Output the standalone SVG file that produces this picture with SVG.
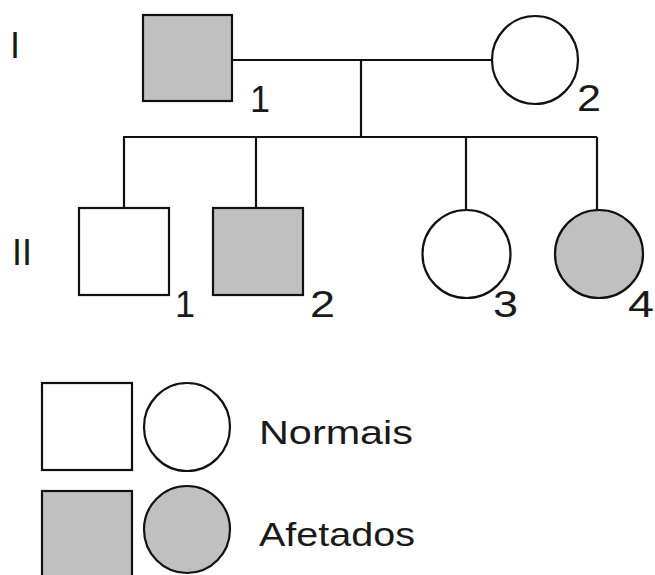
<svg xmlns="http://www.w3.org/2000/svg" width="655" height="575" viewBox="0 0 655 575">
<style>
.sym{stroke:#111;stroke-width:2.2;}
.n{fill:#fff;}
.a{fill:#c0c0c0;}
.ln{stroke:#111;stroke-width:2.2;fill:none;}
.t{font-family:"Liberation Sans",Arial,sans-serif;fill:#1a1a1a;font-size:36px;}
.w{font-family:"Liberation Sans",Arial,sans-serif;fill:#1a1a1a;font-size:34px;}
</style>
<rect width="655" height="575" fill="#fff"/>
<g id="gen-labels">
<text class="t" x="10" y="58">I</text>
<text class="t" x="12" y="265">II</text>
</g>
<g id="connectors">
<line class="ln" x1="232" y1="60" x2="491" y2="60"/>
<line class="ln" x1="361" y1="60" x2="361" y2="137"/>
<line class="ln" x1="123" y1="137" x2="597" y2="137"/>
<line class="ln" x1="124" y1="137" x2="124" y2="208"/>
<line class="ln" x1="256" y1="137" x2="256" y2="208"/>
<line class="ln" x1="466" y1="137" x2="466" y2="210"/>
<line class="ln" x1="597" y1="137" x2="597" y2="210"/>
</g>
<g id="I-1">
<rect class="sym a" x="143" y="15" width="89" height="86"/>
<text class="t" x="250" y="112">1</text>
</g>
<g id="I-2">
<ellipse class="sym n" cx="535" cy="60" rx="43" ry="44"/>
<text class="t" x="577" y="111" textLength="24" lengthAdjust="spacingAndGlyphs">2</text>
</g>
<g id="II-1">
<rect class="sym n" x="79" y="208" width="90" height="87"/>
<text class="t" x="175" y="317">1</text>
</g>
<g id="II-2">
<rect class="sym a" x="213" y="208" width="90" height="87"/>
<text class="t" x="310" y="317" textLength="25" lengthAdjust="spacingAndGlyphs">2</text>
</g>
<g id="II-3">
<ellipse class="sym n" cx="466.5" cy="254" rx="44" ry="44"/>
<text class="t" x="493" y="317" textLength="25" lengthAdjust="spacingAndGlyphs">3</text>
</g>
<g id="II-4">
<ellipse class="sym a" cx="599" cy="254" rx="44" ry="44"/>
<text class="t" x="628" y="317" textLength="26" lengthAdjust="spacingAndGlyphs">4</text>
</g>
<g id="legend">
<rect class="sym n" x="42" y="383" width="90" height="87"/>
<ellipse class="sym n" cx="187" cy="427" rx="43" ry="44"/>
<text class="w" x="259" y="444" textLength="154" lengthAdjust="spacingAndGlyphs">Normais</text>
<rect class="sym a" x="42" y="491" width="90" height="100"/>
<ellipse class="sym a" cx="187" cy="529.5" rx="43" ry="43.5"/>
<text class="w" x="259" y="546" textLength="156" lengthAdjust="spacingAndGlyphs">Afetados</text>
</g>
</svg>
